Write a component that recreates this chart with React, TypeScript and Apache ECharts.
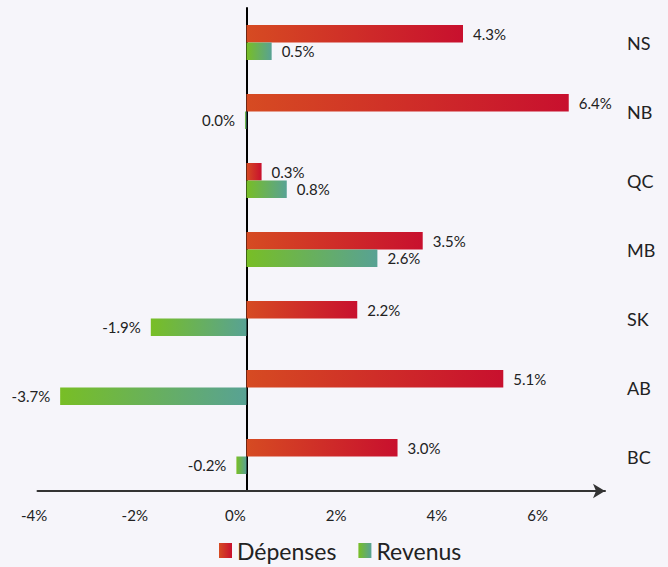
import React, { useEffect, useRef } from "react";
import * as echarts from "echarts";

const provinces = ["NS", "NB", "QC", "MB", "SK", "AB", "BC"];
const depenses = [4.3, 6.4, 0.3, 3.5, 2.2, 5.1, 3.0];
const revenus = [0.5, -0.03, 0.8, 2.6, -1.9, -3.7, -0.2];
const tickValues = [-4, -2, 0, 2, 4, 6];

const FONT = "Lato, 'Noto Sans', sans-serif";

const fmt = (v: number) => `${(Math.abs(v) < 0.05 ? 0 : v).toFixed(1)}%`;

const gradDep = () =>
  new echarts.graphic.LinearGradient(0, 0, 1, 0, [
    { offset: 0, color: "#d64b22" },
    { offset: 1, color: "#c8102e" },
  ]);
const gradRev = () =>
  new echarts.graphic.LinearGradient(0, 0, 1, 0, [
    { offset: 0, color: "#78be25" },
    { offset: 1, color: "#58a294" },
  ]);

const makeData = (vals: number[]) =>
  vals.map((v) => ({
    value: v,
    label: { position: v <= 0 ? "left" : "right" },
  }));

export default function App() {
  const ref = useRef<HTMLDivElement>(null);
  useEffect(() => {
    if (!ref.current) return;
    const chart = echarts.init(ref.current, null, { renderer: "svg" });
    chart.setOption({
      animation: false,
      backgroundColor: "#f6f5fa",
      textStyle: { fontFamily: FONT },
      grid: { left: 37.5, right: 63, top: 8, bottom: 76, containLabel: false },
      legend: {
        bottom: 0,
        left: 214,
        itemWidth: 13,
        itemHeight: 15,
        itemGap: 22,
        icon: "rect",
        textStyle: { fontFamily: FONT, fontSize: 23, color: "#222" },
        data: ["Dépenses", "Revenus"],
      },
      xAxis: {
        type: "value",
        min: -4.15,
        max: 7.12,
        splitLine: { show: false },
        axisTick: { show: false },
        axisLine: {
          show: true,
          onZero: false,
          symbol: ["none", "arrow"],
          symbolSize: [11, 12],
          lineStyle: { color: "#333", width: 2 },
        },
        axisLabel: {
          customValues: tickValues,
          formatter: (v: number) => `${v}%`,
          fontFamily: FONT,
          fontSize: 15,
          color: "#222",
          margin: 16,
          padding: [0, 22, 0, 0],
        },
      },
      yAxis: [
        {
          type: "category",
          data: provinces,
          inverse: true,
          position: "left",
          axisLine: { show: true, onZero: true, lineStyle: { color: "#000", width: 2 } },
          axisTick: { show: false },
          axisLabel: { show: false },
        },
        {
          type: "category",
          data: provinces,
          inverse: true,
          position: "right",
          axisLine: { show: false },
          axisTick: { show: false },
          axisLabel: {
            fontFamily: FONT,
            fontSize: 18,
            color: "#222",
            margin: 22,
            align: "left",
          },
        },
      ],
      series: [
        {
          name: "Dépenses",
          type: "bar",
          yAxisIndex: 0,
          barWidth: 17.5,
          barGap: "0%",
          itemStyle: { color: gradDep() },
          label: {
            show: true,
            distance: 10,
            fontFamily: FONT,
            fontSize: 15,
            color: "#222",
            formatter: (p: any) => fmt(p.value),
          },
          data: makeData(depenses),
        },
        {
          name: "Revenus",
          type: "bar",
          yAxisIndex: 0,
          barWidth: 17.5,
          barGap: "0%",
          itemStyle: { color: gradRev() },
          label: {
            show: true,
            distance: 10,
            fontFamily: FONT,
            fontSize: 15,
            color: "#222",
            formatter: (p: any) => fmt(p.value),
          },
          data: makeData(revenus),
        },
      ],
    });
    return () => chart.dispose();
  }, []);
  return <div ref={ref} style={{ width: 668, height: 567, position: "absolute", left: 0, top: 0 }} />;
}
